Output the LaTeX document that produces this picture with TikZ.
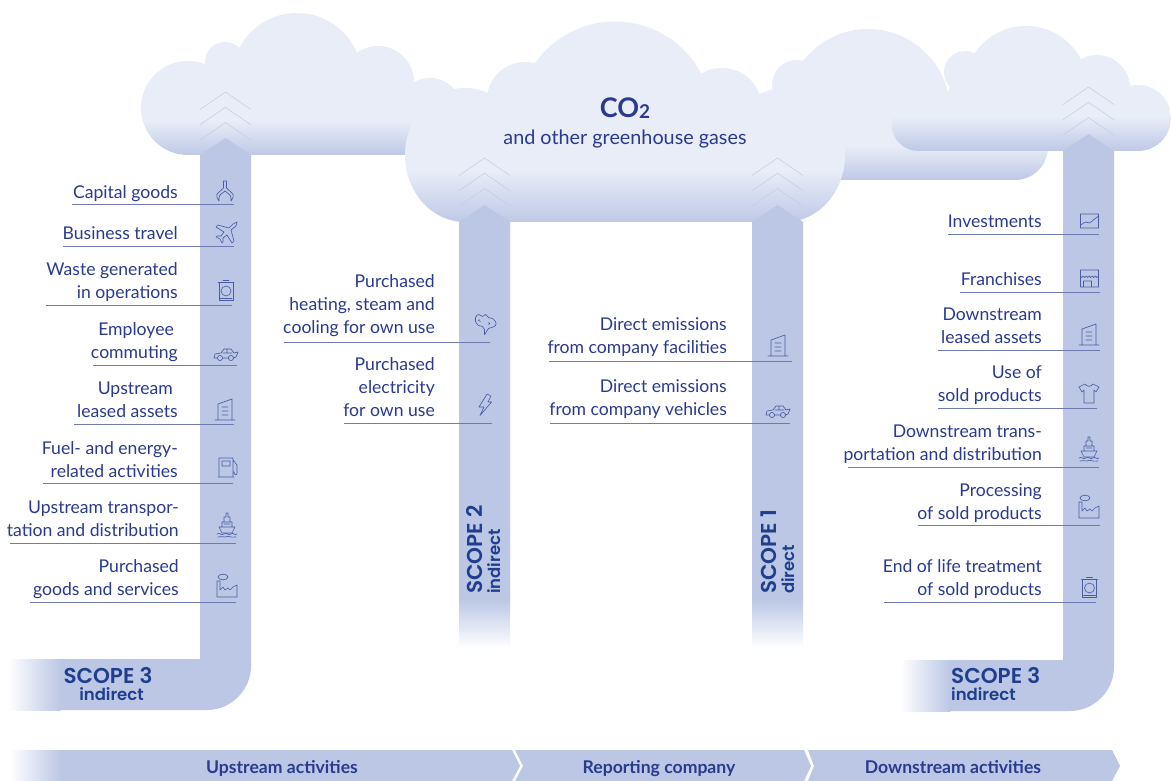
\documentclass[tikz,border=0pt]{standalone}
\usepackage{fontspec}
\setmainfont{Lato}
\newfontfamily\scopefont{Poppins}[BoldFont={Poppins SemiBold}]
\usetikzlibrary{calc}
\definecolor{band}{HTML}{BBC7E5}
\definecolor{cloudlight}{HTML}{E9EDF8}
\definecolor{cloudbase}{HTML}{BEC9E6}
\definecolor{ink}{HTML}{2A3B8F}
\definecolor{scopeink}{HTML}{1F3E8E}
\definecolor{rule}{HTML}{6E7AB0}
\definecolor{chev}{HTML}{C6CFE6}
\definecolor{iconc}{HTML}{4C5CA3}
\newcommand{\phs}{\vphantom{Agp}}
\tikzset{
 lbl/.style={font=\fontsize{17.6}{23}\selectfont, text=ink, align=right, inner sep=0pt, anchor=east},
 ulinec/.style={draw=rule, line width=.8pt},
 cloudgrad/.style={top color=cloudlight,middle color=cloudlight!72!cloudbase,bottom color=cloudbase},
 scopemain/.style={font=\scopefont\bfseries\fontsize{21.5}{22}\selectfont, text=scopeink, inner sep=0pt},
 scopesub/.style={font=\scopefont\bfseries\fontsize{16.5}{18}\selectfont, text=scopeink, inner sep=0pt},
 barlbl/.style={font=\bfseries\fontsize{17.6}{20}\selectfont, text=ink, inner sep=0pt},
 chevron/.style={draw=chev, line width=.6pt},
 icon/.style={draw=iconc, line width=.65pt, line join=round, line cap=round},
 iclaw/.pic={\draw[icon] (-1.5,-4)--(-1.5,-11)--(1.5,-11)--(1.5,-4) (-1.5,-4)--(-8,2) .. controls (-8.5,5) .. (-6,9) .. controls (-6,5) .. (-5,3)--(0,-1)--(5,3) .. controls (6,5) .. (6,9) .. controls (8.5,5) .. (8,2)--(1.5,-4);},
 iplane/.pic={\draw[icon] (10,-10)--(6,-8)--(2,-4)--(-9,-7)--(-11,-5)--(-3,0)--(-6,4)--(-10,4)--(-11,5)--(-7,7)--(-5,11)--(-4,10)--(-4,6)--(0,3)--(5,11)--(7,9)--(4,-2)--(9,-6)--cycle;},
 ibin/.pic={\draw[icon] (-7,-8) rectangle (7,10) (-3,-10)--(3,-10) (-8,-8)--(8,-8) (-6,8)--(6,8);\draw[icon] (0,1) circle [radius=5];},
 icar/.pic={\draw[icon] (-9,4)--(-12,4)--(-11,0)--(-5,-1)--(-2,-5)--(5,-5)--(8,-1)--(12,-2)--(10,3)--(7,4) (-3,4)--(3,4) (-3,-1)--(6,-1) (1,-5)--(1,-1);\draw[icon] (-6,4) circle [radius=2.6] (5,4) circle [radius=2.6];},
 ibuild/.pic={\draw[icon] (-10,10)--(10,10) (-7,10)--(-7,-6)--(7,-11)--(7,10) (-3,-3)--(3,-3) (-3,1)--(3,1) (-3,5)--(3,5);},
 ifuel/.pic={\draw[icon] (-9,8)--(-9,-10)--(5,-10)--(5,8) (-10,9)--(6,9) (-6,-7) rectangle (2,-2) (5,-8)--(9,-3)--(9,5) .. controls (9,8) and (6,7) .. (6,4);},
 iship/.pic={\draw[icon] (-8,2)--(8,2)--(5,8)--(-5,8)--cycle (-5,2)--(-5,-3)--(5,-3)--(5,2) (-3,-3)--(-3,-8)--(-1,-8)--(-1,-12)--(1,-12)--(1,-8)--(3,-8)--(3,-3) (-3,-1)--(3,-1);\draw[icon] (-10,9) .. controls (-7,7) and (-6,11) .. (-3,9) .. controls (0,7) and (1,11) .. (4,9) .. controls (6,7) and (8,11) .. (10,9) (-9,12) .. controls (-6,10) and (-5,13) .. (-2,12) .. controls (1,10) and (3,13) .. (9,12);},
 ifactory/.pic={\draw[icon] (-10,11)--(-10,-5)--(-7,-5)--(-7,4)--(-4,1)--(-2,4)--(1,2)--(3,4)--(6,1)--(10,-1)--(10,11)--cycle (-4,-9) ellipse [x radius=5, y radius=2.8];},
 ipuff/.pic={\draw[icon] plot[smooth cycle, tension=.7] coordinates {(-10,-7) (-7,-10) (-3,-8) (0,-10) (3,-7) (7,-6) (10,-3) (10,1) (6,3) (3,4) (1,7) (-1,10) (-1,5) (-3,2) (-7,1) (-10,-3)};\draw[icon] (-6,-5) .. controls (-8,-5) and (-7,-3) .. (-5,-3) (3,-2) .. controls (5,-2) and (5,0) .. (3,0);},
 ibolt/.pic={\draw[icon] (2,-11)--(6,-9)--(3,-3)--(6.5,-3)--(-5,10.5)--(-1,2)--(-6,2)--cycle;},
 ichart/.pic={\draw[icon] (-9,-7) rectangle (9,7) (-9,4)--(-4,1)--(0,2)--(9,-5);},
 istore/.pic={\draw[icon] (-9,-8) rectangle (9,9) (-9,-2) .. controls (-8,0) .. (-6,-2) .. controls (-5,0) .. (-3,-2) .. controls (-2,0) .. (0,-2) .. controls (1,0) .. (3,-2) .. controls (4,0) .. (6,-2) .. controls (7,0) .. (9,-2) (-6,9)--(-6,3)--(2,3)--(2,9);},
 ishirt/.pic={\draw[icon] (-4,-9)--(-10,-6)--(-7,-1)--(-5,-3)--(-5,10)--(5,10)--(5,-3)--(7,-1)--(10,-6)--(4,-9) .. controls (2,-6) and (-2,-6) .. (-4,-9);},
}
\newcommand{\chevs}[2]{%
 \foreach \k in {0,15.3,30.6}{\draw[chevron] ($(#1,#2)+(-25.5,17.5+\k)$)--($(#1,#2)+(0,\k)$)--($(#1,#2)+(25.5,17.5+\k)$);}}
\begin{document}
\begin{tikzpicture}[x=1pt,y=-1pt]
\useasboundingbox (0,0) rectangle (1171,781);
\fill[white] (0,0) rectangle (1171,781);
% back right cloud
\begin{scope}
\clip (797,85) circle [radius=25] (868,111) circle [radius=82] (1015,147) circle [radius=33] (760,110)--(1015,110)--(1015,180)--(760,180)--cycle;
\fill[cloudlight] (740,0) rectangle (1060,146);
\shade[cloudgrad] (740,145) rectangle (1060,180);
\end{scope}
% left cloud
\begin{scope}
\clip (188,108) circle [radius=47] (225,62) circle [radius=20] (245,85) circle [radius=25] (297,78) circle [radius=65] (378,82) circle [radius=36] (430,110) circle [radius=32] (188,100)--(500,100)--(500,155)--(188,155)--cycle;
\fill[cloudlight] (130,0) rectangle (520,121);
\shade[cloudgrad] (130,120) rectangle (520,155);
\end{scope}
% right cloud
\begin{scope}
\clip (918,125) circle [radius=26] (965,72) circle [radius=21] (970,95) circle [radius=22] (1026,88) circle [radius=62] (1097,88) circle [radius=33] (1138,118) circle [radius=33] (918,99)--(1138,99)--(1138,151)--(918,151)--cycle;
\fill[cloudlight] (880,0) rectangle (1171,117);
\shade[cloudgrad] (880,116) rectangle (1171,151);
\end{scope}
% central cloud
\begin{scope}
\clip (465,155) ellipse [x radius=60, y radius=67] (525,100) circle [radius=38] (615,119) circle [radius=97.5] (722,108) circle [radius=40] (785,155) ellipse [x radius=60, y radius=67] (465,120)--(785,120)--(785,222)--(465,222)--cycle;
\fill[cloudlight] (400,0) rectangle (850,171);
\shade[cloudgrad] (400,170) rectangle (850,222);
\end{scope}
% arrows
\fill[band] (60,659)--(200,659)--(200,155)--(225.5,138)--(251,155)--(251,666) .. controls (251,690) and (231,710) .. (207,710)--(60,710)--cycle;
\shade[left color=white,right color=band,draw=none] (8,659) rectangle (60.5,710);
\fill[band] (950,660)--(1063,660)--(1063,151)--(1088.5,134)--(1114,151)--(1114,667) .. controls (1114,691) and (1094,711) .. (1070,711)--(950,711)--cycle;
\shade[left color=white,right color=band,draw=none] (900,660) rectangle (950.5,711);
\fill[band] (459,600)--(459,222)--(484.5,205)--(510,222)--(510,600)--cycle;
\shade[top color=band,bottom color=white,draw=none] (459,599.5) rectangle (510,648);
\fill[band] (752,600)--(752,222)--(777.5,205)--(803,222)--(803,600)--cycle;
\shade[top color=band,bottom color=white,draw=none] (752,599.5) rectangle (803,648);
% chevrons
\chevs{225.5}{92}\chevs{484.5}{158}\chevs{777.5}{158}\chevs{1088.5}{87}
% bottom bar
\fill[band] (60,750)--(512,750)--(520,766)--(512,781)--(60,781)--cycle;
\shade[left color=white,right color=band,draw=none] (10,750) rectangle (60.5,781);
\fill[band] (515,750)--(804,750)--(811,766)--(804,781)--(515,781)--(523,766)--cycle;
\fill[band] (808,750)--(1112,750)--(1120,766)--(1112,781)--(808,781)--(814,766)--cycle;
\node[barlbl] (barup) at (282,769) {\phs Upstream activities\phs};
\node[barlbl] (barrep) at (659,769) {\phs Reporting company\phs};
\node[barlbl] (bardown) at (953,769) {\phs Downstream activities\phs};
% title
\node[font=\bfseries\fontsize{27}{30}\selectfont,text=ink,inner sep=0pt] (co) at (625,108) {CO\raisebox{-1.5pt}{\fontsize{19}{20}\selectfont 2}};
\node[font=\fontsize{19.8}{22}\selectfont,text=ink,inner sep=0pt] (gases) at (625,139.5) {\phs and other greenhouse gases\phs};
% underlines
\foreach \xa/\xb/\yy in {72/234/204.5,63/234/246,46/232/305,93/237/365,74/234/424,43/233/483,10/236/543,30/236/602,
 284/490/342,344/492/423,549/792/361,550/790/423,
 948/1099/234,960/1100/292,938/1100/350,938/1097/408.5,848/1099/467,918/1100/525,884/1096/602}
 \draw[ulinec] (\xa,\yy)--(\xb,\yy);
% left labels
\node[lbl] (capital) at (178,193.5) {\phs Capital goods\phs};
\node[lbl] (travel) at (178,234.5) {\phs Business travel\phs};
\node[lbl] (waste) at (178,282) {\phs Waste generated\\in operations\phs};
\node[lbl] (employee) at (178,342) {\phs Employee\hspace*{4pt}\\commuting\phs};
\node[lbl] (upleased) at (178,401) {\phs Upstream\hspace*{5pt}\\leased assets\phs};
\node[lbl] (fuel) at (178,461) {\phs Fuel- and energy-\\related activities\phs};
\node[lbl] (uptrans) at (179,520) {\phs Upstream transpor-\\tation and distribution\phs};
\node[lbl] (goods) at (179,579.5) {\phs Purchased\\goods and services\phs};
% scope 2 labels
\node[lbl] (heating) at (435,305.5) {\phs Purchased\\heating, steam and\\cooling for own use\phs};
\node[lbl] (electric) at (435,388.5) {\phs Purchased\\electricity\\for own use\phs};
% scope 1 labels
\node[lbl] (facil) at (727,337) {\phs Direct emissions\\from company facilities\phs};
\node[lbl] (vehic) at (727,399) {\phs Direct emissions\\from company vehicles\phs};
% right labels
\node[lbl] (invest) at (1042,222.5) {\phs Investments\phs};
\node[lbl] (franch) at (1042,280.5) {\phs Franchises\phs};
\node[lbl] (downleased) at (1042,327.5) {\phs Downstream\\leased assets\phs};
\node[lbl] (useof) at (1042,385.5) {\phs Use of\\sold products\phs};
\node[lbl] (downtrans) at (1042,444) {\phs Downstream trans-\\portation and distribution\phs};
\node[lbl] (process) at (1042,503) {\phs Processing\\of sold products\phs};
\node[lbl] (endlife) at (1042,579) {\phs End of life treatment\\of sold products\phs};
% scope labels
\node[scopemain] (s3a) at (108,676) {SCOPE 3};
\node[scopesub] (s3as) at (111.5,694) {indirect};
\node[scopemain,anchor=west] (s3b) at (951,676) {SCOPE 3};
\node[scopesub,anchor=west] (s3bs) at (951,694) {indirect};
\node[scopemain,rotate=90,anchor=west] (s2) at (475,594) {SCOPE 2};
\node[scopesub,rotate=90,anchor=west] (s2s) at (494,594) {indirect};
\node[scopemain,rotate=90,anchor=west] (s1) at (769,594) {SCOPE 1};
\node[scopesub,rotate=90,anchor=west] (s1s) at (788,594) {direct};
% icons
\pic (i1) at (225,192) {iclaw};
\pic (i2) at (227,232) {iplane};
\pic (i3) at (226,290) {ibin};
\pic (i4) at (226,354) {icar};
\pic (i5) at (225,410) {ibuild};
\pic (i6) at (228,468) {ifuel};
\pic (i7) at (227,525) {iship};
\pic (i8) at (227,586) {ifactory};
\pic (i9) at (485.5,324.5) {ipuff};
\pic (i10) at (485,405) {ibolt};
\pic (i11) at (778,346) {ibuild};
\pic (i12) at (778,411) {icar};
\pic (i13) at (1089.5,221) {ichart};
\pic (i14) at (1089.5,278) {istore};
\pic (i15) at (1089,335) {ibuild};
\pic (i16) at (1089,393) {ishirt};
\pic (i17) at (1089,449) {iship};
\pic (i18) at (1089,507) {ifactory};
\pic (i19) at (1089.5,587) {ibin};
\end{tikzpicture}
\end{document}
